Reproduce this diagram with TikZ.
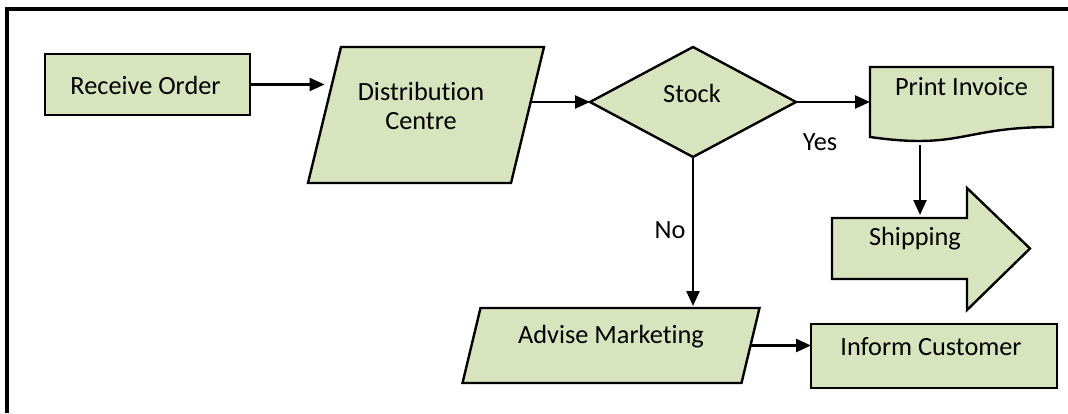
\documentclass[tikz,border=0pt]{standalone}
\usepackage{fontspec}
\setmainfont[Ligatures=NoCommon]{Carlito}
\usetikzlibrary{shapes.geometric,arrows.meta,calc}
\definecolor{boxgreen}{HTML}{D7E4BD}
\begin{document}
\begin{tikzpicture}[x=1pt,y=-1pt,
  shapebox/.style={draw=black,line width=2.4pt,fill=boxgreen,inner sep=0pt,outer sep=0pt},
  rectbox/.style={shapebox,rectangle},
  decbox/.style={shapebox,diamond},
  ghost/.style={rectangle,inner sep=0pt,outer sep=0pt},
  txt/.style={font=\fontsize{26.3}{28.5}\selectfont,inner sep=0pt,anchor=base,text=black},
  arr/.style={line width=2.4pt,-{Triangle[length=15pt,width=13pt]}},
  frame/.style={line width=4pt}
]
\useasboundingbox (0,0) rectangle (1068,413);
\fill[white] (0,0) rectangle (1068,413);
\draw[frame] (7,413) -- (7,8.5) -- (1068,8.5);

% shapes
\node[rectbox,minimum width=205pt,minimum height=61pt] (ro) at (147.5,84.5) {};
\node[ghost,minimum width=203pt,minimum height=136pt] (dc) at (426,115) {};
\draw[shapebox] ($(dc.north west)+(16.5,0)$) -- ($(dc.north east)+(16.5,0)$)
  -- ($(dc.south east)+(-16.5,0)$) -- ($(dc.south west)+(-16.5,0)$) -- cycle;
\node[decbox,minimum width=206pt,minimum height=110pt] (st) at (693,102) {};
\node[ghost,minimum width=183pt,minimum height=75pt] (pi) at (961.5,104.5) {};
\draw[shapebox] (pi.north west) -- (pi.north east) -- ($(pi.north east)+(0,60)$)
  .. controls ($(pi.north)+(0,60)$) and ($(pi.north)+(0,83)$) .. ($(pi.north west)+(0,70)$) -- cycle;
\node[ghost,minimum width=135pt,minimum height=61pt] (ship) at (899.5,248.5) {};
\draw[shapebox] (ship.north west) -- (ship.north east) -- ($(ship.north east)+(0,-30)$)
  -- ($(ship.east)+(63,0)$) -- ($(ship.south east)+(0,31)$) -- (ship.south east) -- (ship.south west) -- cycle;
\node[ghost,minimum width=279pt,minimum height=75pt] (am) at (611,345.5) {};
\draw[shapebox] ($(am.north west)+(9,0)$) -- ($(am.north east)+(9,0)$)
  -- ($(am.south east)+(-9,0)$) -- ($(am.south west)+(-9,0)$) -- cycle;
\node[rectbox,minimum width=246pt,minimum height=64pt] (ic) at (934,356) {};

% texts
\node[txt] (tro) at (145.5,94) {Receive Order};
\node[txt,align=center] (tdc) at (421,129) {Distribution\\Centre};
\node[txt] (tst) at (692,102) {Stock};
\node[txt] (tpi) at (961.5,95) {Print Invoice};
\node[txt] (tyes) at (820,150) {Yes};
\node[txt] (tno) at (670,238) {No};
\node[txt] (tship) at (915,245) {Shipping};
\node[txt] (tam) at (611,343) {Advise Marketing};
\node[txt] (tic) at (931,355) {Inform Customer};

% connectors
\draw[arr] (ro.east) -- (ro.east -| dc.west);
\draw[arr] ($(st.west -| dc.east)+(3,0)$) -- (st.west);
\draw[arr] (st.east) -- (st.east -| pi.west);
\draw[arr] (st.south) -- ($(st.south |- am.north)+(0,-2)$);
\draw[arr] ([shift={(50,3)}]pi.south west) -- ([shift={(20.5,-3)}]ship.north);
\draw[arr] (am.east) -- (am.east -| ic.west);
\end{tikzpicture}
\end{document}
